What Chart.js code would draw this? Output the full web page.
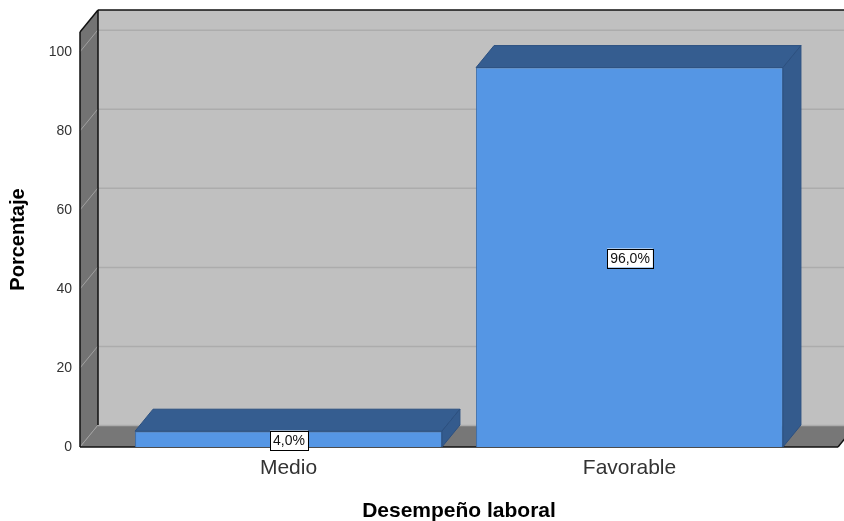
<!DOCTYPE html>
<html><head><meta charset="utf-8">
<script src="https://cdn.jsdelivr.net/npm/chart.js@4/dist/chart.umd.min.js"></script>
<style>html,body{margin:0;padding:0;background:#fff}#wrap{width:844px;height:521px;position:relative}</style>
</head><body><div id="wrap"><canvas id="c"></canvas></div>
<script>
// ---- data ----
const categories = ['Medio', 'Favorable'];
const percentages = [4.0, 96.0];
const yTickValues = [0, 20, 40, 60, 80, 100];
const yMax = 105;
const xTitle = 'Desempeño laboral';
const yTitle = 'Porcentaje';

// ---- 3D style constants ----
const DX = 18, DY = -22, EXT = 38;
const FONT = "'Liberation Sans', Arial, sans-serif";

function poly(ctx, pts, fill, stroke, lw) {
  ctx.beginPath();
  ctx.moveTo(pts[0][0], pts[0][1]);
  for (let i = 1; i < pts.length; i++) ctx.lineTo(pts[i][0], pts[i][1]);
  ctx.closePath();
  if (fill) { ctx.fillStyle = fill; ctx.fill(); }
  if (stroke) { ctx.strokeStyle = stroke; ctx.lineWidth = lw || 1; ctx.stroke(); }
}
function line(ctx, x1, y1, x2, y2, color, lw) {
  ctx.beginPath(); ctx.moveTo(x1, y1); ctx.lineTo(x2, y2);
  ctx.strokeStyle = color; ctx.lineWidth = lw || 1; ctx.stroke();
}

const threeD = {
  id: 'threeD',
  beforeDatasetsDraw(chart) {
    const { ctx, chartArea: a, scales: { y } } = chart;
    const L = a.left - EXT, R = a.right + EXT, T = a.top, B = a.bottom;
    ctx.save();
    // back wall
    poly(ctx, [[L + DX, T + DY], [R + DX, T + DY], [R + DX, B + DY], [L + DX, B + DY]], '#c0c0c0');
    // left wall
    poly(ctx, [[L, T], [L + DX, T + DY], [L + DX, B + DY], [L, B]], '#737373');
    // floor
    poly(ctx, [[L, B], [L + DX, B + DY], [R + DX, B + DY], [R, B]], '#777777');
    // gridlines
    yTickValues.forEach(v => {
      const py = y.getPixelForValue(v);
      line(ctx, L + DX, py + DY + 0.5, R + DX, py + DY + 0.5, '#acacac', 1.5);
      line(ctx, L, py, L + DX, py + DY, '#a0a0a0', 1);
    });
    // edges
    line(ctx, L + DX, T + DY, R + DX, T + DY, '#111', 1.5);
    line(ctx, L, T, L + DX, T + DY, '#111', 1.5);
    line(ctx, L, T, L, B, '#111', 1.5);
    line(ctx, L + DX, T + DY, L + DX, B + DY, '#111', 1.5);
    line(ctx, L, B, R, B, '#111', 1.5);
    line(ctx, R, B, R + DX, B + DY, '#111', 1.5);
    ctx.restore();
  },
  afterDatasetsDraw(chart) {
    const { ctx } = chart;
    const meta = chart.getDatasetMeta(0);
    ctx.save();
    meta.data.forEach((bar, i) => {
      const p = bar.getProps(['x', 'y', 'base', 'width'], true);
      const l = p.x - p.width / 2, r = p.x + p.width / 2;
      // top face
      poly(ctx, [[l, p.y], [l + DX, p.y + DY], [r + DX, p.y + DY], [r, p.y]], '#355d90', '#2c5080', 1);
      // side face
      poly(ctx, [[r, p.y], [r + DX, p.y + DY], [r + DX, p.base + DY], [r, p.base]], '#345b8d', '#2c5080', 1);
    });
    // value labels
    ctx.font = '14px ' + FONT;
    ctx.textAlign = 'center';
    ctx.textBaseline = 'middle';
    meta.data.forEach((bar, i) => {
      const p = bar.getProps(['x', 'y', 'base'], true);
      const txt = percentages[i].toFixed(1).replace('.', ',') + '%';
      const w = ctx.measureText(txt).width + 6, h = 19;
      const cx = Math.round(p.x), cy = Math.round((p.y + p.base) / 2) + 1;
      ctx.fillStyle = '#fff';
      ctx.fillRect(cx - w / 2, cy - h / 2, w, h);
      ctx.strokeStyle = '#000'; ctx.lineWidth = 1;
      ctx.strokeRect(Math.round(cx - w / 2) + 0.5, Math.round(cy - h / 2) + 0.5, Math.round(w), h);
      ctx.fillStyle = '#111';
      ctx.fillText(txt, cx, cy + 1);
    });
    ctx.restore();
  }
};

new Chart(document.getElementById('c'), {
  type: 'bar',
  data: {
    labels: categories,
    datasets: [{
      data: percentages,
      backgroundColor: '#5596e4',
      borderColor: '#3d70ad',
      borderWidth: 1,
      barPercentage: 0.9,
      categoryPercentage: 1.0
    }]
  },
  options: {
    responsive: true,
    maintainAspectRatio: false,
    animation: false,
    layout: { padding: { top: 32, right: 44, left: 0, bottom: 0 } },
    plugins: { legend: { display: false }, tooltip: { enabled: false } },
    scales: {
      x: {
        grid: { display: false, drawTicks: false },
        border: { display: false },
        ticks: { font: { family: FONT, size: 21 }, color: '#333', padding: 9 },
        title: { display: true, text: xTitle, font: { family: FONT, size: 21, weight: 'bold' }, color: '#000', padding: { top: 0, bottom: -3 } },
        afterFit(s) { s.height = 74; }
      },
      y: {
        min: 0, max: yMax,
        grid: { display: false, drawTicks: false },
        border: { display: false },
        afterBuildTicks(s) { s.ticks = yTickValues.map(v => ({ value: v })); },
        ticks: { font: { family: FONT, size: 14 }, color: '#333', padding: 46 },
        title: { display: true, text: yTitle, font: { family: FONT, size: 20, weight: 'bold' }, color: '#000', padding: { top: 6, bottom: 0 } },
        afterFit(s) { s.width = 118; s.paddingTop = 0; s.paddingBottom = 0; }
      }
    }
  },
  plugins: [threeD]
});
</script>
</body></html>
